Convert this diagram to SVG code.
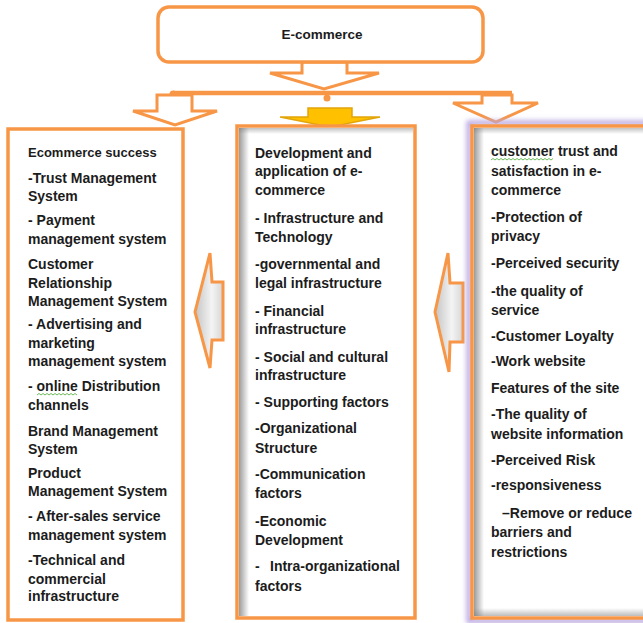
<svg xmlns="http://www.w3.org/2000/svg" width="643" height="623" viewBox="0 0 643 623">
<defs>
<style>
.box{fill:#fff;stroke:#F79646;stroke-width:3.5}
.arr{fill:#fff;stroke:#F79646;stroke-width:3;stroke-linejoin:miter}
.side{fill:url(#sideGrad);stroke:#F79646;stroke-width:3;stroke-linejoin:miter}
.t{font-family:"Liberation Sans",Arial,sans-serif;font-weight:bold;font-size:14px;fill:#1c1c1c}
.sq{fill:none;stroke:#6dbb5a;stroke-width:1}
</style>
<linearGradient id="sideGrad" x1="0" y1="0" x2="1" y2="0">
<stop offset="0" stop-color="#c4c4c4"/>
<stop offset="0.6" stop-color="#f4f4f4"/>
<stop offset="1" stop-color="#d6d6d6"/>
</linearGradient>
<linearGradient id="shadowL" x1="0" y1="0" x2="1" y2="0">
<stop offset="0" stop-color="#7a7a7a" stop-opacity="0.75"/>
<stop offset="1" stop-color="#7a7a7a" stop-opacity="0"/>
</linearGradient>
<linearGradient id="shadowT" x1="0" y1="0" x2="0" y2="1">
<stop offset="0" stop-color="#7a7a7a" stop-opacity="0.45"/>
<stop offset="1" stop-color="#7a7a7a" stop-opacity="0"/>
</linearGradient>
<linearGradient id="shadowB" x1="0" y1="1" x2="0" y2="0">
<stop offset="0" stop-color="#7a7a7a" stop-opacity="0.5"/>
<stop offset="1" stop-color="#7a7a7a" stop-opacity="0"/>
</linearGradient>
<filter id="glow" x="-10%" y="-5%" width="120%" height="110%">
<feGaussianBlur stdDeviation="2.5"/>
</filter>
</defs>

<g id="connectors">
<polygon class="arr" points="302,62 347,62 347,73 379,73 324,89 270,73 302,73"/>
<line x1="173" y1="93" x2="512" y2="93" stroke="#F79646" stroke-width="4.5"/>
<circle cx="173" cy="94" r="3.5" fill="#F79646"/>
<circle cx="327" cy="98" r="3.5" fill="#F79646"/>
<polygon class="arr" points="157,95 192,95 192,111 217,111 175,125 133,111 157,111"/>
<polygon points="308,108 352,108 352,117 380,117 330,127 280,117 308,117" fill="#FFC000" stroke="#E2A50A" stroke-width="1.5"/>
<polygon class="arr" points="482,95 512,95 512,103 538,103 496,122 453,103 482,103"/>
<polygon class="side" points="210,253 212,282 223,282 223,340 212,340 210,368 195,312"/>
<polygon class="side" points="448,253 450,283 463,283 463,342 450,342 449,372 435,312"/>
</g>

<g id="node-top">
<rect class="box" x="158" y="7" width="325" height="55" rx="11"/>
<text class="t" x="322" y="39" text-anchor="middle" style="font-size:13.5px">E-commerce</text>
</g>

<g id="node-left">
<rect class="box" x="8" y="129" width="175" height="491"/>
<text class="t" x="28" y="157" style="font-size:13px">Ecommerce success</text>
<text class="t" x="28" y="183">-Trust Management</text>
<text class="t" x="28" y="200.5">System</text>
<text class="t" x="28" y="224.5">- Payment</text>
<text class="t" x="28" y="243.5">management system</text>
<text class="t" x="28" y="268.5">Customer</text>
<text class="t" x="28" y="287.5">Relationship</text>
<text class="t" x="28" y="305.5">Management System</text>
<text class="t" x="28" y="329">- Advertising and</text>
<text class="t" x="28" y="348">marketing</text>
<text class="t" x="28" y="366">management system</text>
<text class="t" x="28" y="391">- online Distribution</text>
<path class="sq" d="M37,395 l2,-1.5 l2,1.5 l2,-1.5 l2,1.5 l2,-1.5 l2,1.5 l2,-1.5 l2,1.5 l2,-1.5 l2,1.5 l2,-1.5 l2,1.5 l2,-1.5 l2,1.5 l2,-1.5 l2,1.5 l2,-1.5 l2,1.5 l2,-1.5 l2,1.5"/>
<text class="t" x="28" y="409.5">channels</text>
<text class="t" x="28" y="435.5">Brand Management</text>
<text class="t" x="28" y="454">System</text>
<text class="t" x="28" y="478">Product</text>
<text class="t" x="28" y="496">Management System</text>
<text class="t" x="28" y="521">- After-sales service</text>
<text class="t" x="28" y="539.5">management system</text>
<text class="t" x="28" y="565">-Technical and</text>
<text class="t" x="28" y="583.5">commercial</text>
<text class="t" x="28" y="601">infrastructure</text>
</g>

<g id="node-middle">
<rect class="box" x="237" y="126" width="178" height="492"/>
<rect x="239" y="128" width="10" height="488" fill="url(#shadowL)"/>
<rect x="239" y="128" width="174" height="6" fill="url(#shadowT)"/>
<text class="t" x="255" y="157.5">Development and</text>
<text class="t" x="255" y="176">application of e-</text>
<text class="t" x="255" y="195">commerce</text>
<text class="t" x="255" y="222.5">- Infrastructure and</text>
<text class="t" x="255" y="242">Technology</text>
<text class="t" x="255" y="269">-governmental and</text>
<text class="t" x="255" y="288">legal infrastructure</text>
<text class="t" x="255" y="315.5">- Financial</text>
<text class="t" x="255" y="334">infrastructure</text>
<text class="t" x="255" y="361.5">- Social and cultural</text>
<text class="t" x="255" y="380">infrastructure</text>
<text class="t" x="255" y="407">- Supporting factors</text>
<text class="t" x="255" y="433">-Organizational</text>
<text class="t" x="255" y="453">Structure</text>
<text class="t" x="255" y="479">-Communication</text>
<text class="t" x="255" y="498">factors</text>
<text class="t" x="255" y="525.5">-Economic</text>
<text class="t" x="255" y="544.5">Development</text>
<text class="t" x="255" y="571">-<tspan x="270">Intra-organizational</tspan></text>
<text class="t" x="255" y="590.5">factors</text>
</g>

<g id="node-right">
<rect x="469" y="123" width="190" height="498" fill="none" stroke="#b9a6e0" stroke-width="5" filter="url(#glow)"/>
<rect class="box" x="472" y="126" width="185" height="492"/>
<rect x="474" y="128" width="10" height="488" fill="url(#shadowL)"/>
<rect x="474" y="128" width="180" height="6" fill="url(#shadowT)"/>
<rect x="474" y="608" width="180" height="8" fill="url(#shadowB)"/>
<text class="t" x="491" y="156">customer trust and</text>
<path class="sq" d="M491,160 l2,-1.5 l2,1.5 l2,-1.5 l2,1.5 l2,-1.5 l2,1.5 l2,-1.5 l2,1.5 l2,-1.5 l2,1.5 l2,-1.5 l2,1.5 l2,-1.5 l2,1.5 l2,-1.5 l2,1.5 l2,-1.5 l2,1.5 l2,-1.5 l2,1.5 l2,-1.5 l2,1.5 l2,-1.5 l2,1.5 l2,-1.5 l2,1.5 l2,-1.5 l2,1.5 l2,-1.5 l2,1.5 l2,-1.5"/>
<text class="t" x="491" y="175.5">satisfaction in e-</text>
<text class="t" x="491" y="194.5">commerce</text>
<text class="t" x="491" y="222">-Protection of</text>
<text class="t" x="491" y="241">privacy</text>
<text class="t" x="491" y="268">-Perceived security</text>
<text class="t" x="491" y="296">-the quality of</text>
<text class="t" x="491" y="314.5">service</text>
<text class="t" x="491" y="340.5">-Customer Loyalty</text>
<text class="t" x="491" y="366">-Work website</text>
<text class="t" x="491" y="392.5">Features of the site</text>
<text class="t" x="491" y="419">-The quality of</text>
<text class="t" x="491" y="438.5">website information</text>
<text class="t" x="491" y="464.5">-Perceived Risk</text>
<text class="t" x="491" y="489.5">-responsiveness</text>
<text class="t" x="502" y="517.5">–Remove or reduce</text>
<text class="t" x="491" y="536.5">barriers and</text>
<text class="t" x="491" y="556.5">restrictions</text>
</g>
</svg>
